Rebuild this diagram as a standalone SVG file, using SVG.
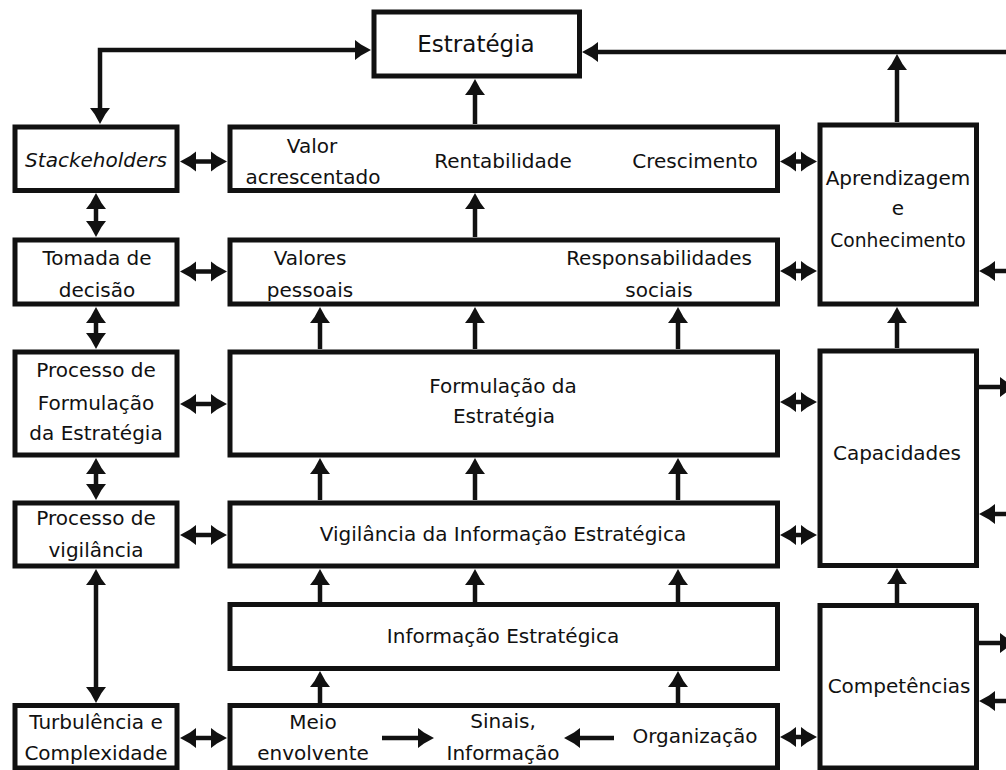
<svg xmlns="http://www.w3.org/2000/svg" width="1006" height="770" viewBox="0 0 1006 770">
<style>
.box{fill:#fff;stroke:#111;stroke-width:5}
.ln{fill:none;stroke:#111;stroke-width:4.5}
.s{marker-end:url(#ah)}
.d{marker-start:url(#ah);marker-end:url(#ah)}
text{font-family:"DejaVu Sans","Liberation Sans",sans-serif;font-size:20px;fill:#111;text-anchor:middle}
.t{font-size:23px}
.i{font-style:italic}
</style>
<defs>
<marker id="ah" markerUnits="userSpaceOnUse" viewBox="-17 -11 18 22" markerWidth="18" markerHeight="22" refX="-8" refY="0" orient="auto-start-reverse">
<path d="M0,0 L-10,-5.5 L-16,-10 L-16,10 L-10,5.5 Z" fill="#111"/>
</marker>
</defs>
<rect width="1006" height="770" fill="#fff"/>
<g id="connectors">
<path class="ln d" d="M363,50 L100,50 L100,116"/>
<path class="ln s" d="M1010,52 L590,52"/>
<path class="ln s" d="M897,122 L897,62"/>
<path class="ln s" d="M475,124 L475,87"/>
<path class="ln d" d="M188,161.5 L219,161.5"/>
<path class="ln d" d="M788,161.5 L809,161.5"/>
<path class="ln d" d="M96,201 L96,229"/>
<path class="ln s" d="M475,237 L475,201"/>
<path class="ln d" d="M188,271.5 L219,271.5"/>
<path class="ln d" d="M788,271 L809,271"/>
<path class="ln s" d="M1010,271 L987,271"/>
<path class="ln d" d="M96,315 L96,341"/>
<path class="ln s" d="M320,349 L320,315"/>
<path class="ln s" d="M475,349 L475,315"/>
<path class="ln s" d="M678,349 L678,315"/>
<path class="ln s" d="M897,348 L897,315"/>
<path class="ln d" d="M188,404 L219,404"/>
<path class="ln d" d="M788,402 L809,402"/>
<path class="ln s" d="M979,387 L1008,387"/>
<path class="ln d" d="M96,466 L96,492"/>
<path class="ln s" d="M320,500 L320,466"/>
<path class="ln s" d="M475,500 L475,466"/>
<path class="ln s" d="M678,500 L678,466"/>
<path class="ln s" d="M1010,514 L987,514"/>
<path class="ln d" d="M188,535 L219,535"/>
<path class="ln d" d="M788,535 L809,535"/>
<path class="ln s" d="M897,603 L897,576"/>
<path class="ln s" d="M320,602 L320,577"/>
<path class="ln s" d="M475,602 L475,577"/>
<path class="ln s" d="M678,602 L678,577"/>
<path class="ln d" d="M96,577 L96,695"/>
<path class="ln s" d="M979,643 L1008,643"/>
<path class="ln s" d="M1010,701 L987,701"/>
<path class="ln s" d="M320,703 L320,679"/>
<path class="ln s" d="M678,703 L678,679"/>
<path class="ln d" d="M188,738 L219,738"/>
<path class="ln d" d="M788,737 L809,737"/>
</g>
<g id="estrategia"><rect class="box" x="374" y="12" width="205.5" height="64"/><text class="t" x="476" y="52">Estratégia</text></g>
<g id="stakeholders"><rect class="box" x="15" y="127" width="162" height="63.5"/><text class="i" x="96" y="167">Stackeholders</text></g>
<g id="valor"><rect class="box" x="230" y="127" width="547.5" height="63.5"/>
<text x="312" y="153">Valor</text><text x="313" y="184">acrescentado</text>
<text x="503" y="168">Rentabilidade</text><text x="695" y="168">Crescimento</text></g>
<g id="aprendizagem"><rect class="box" x="820" y="125" width="156.5" height="179"/>
<text x="898" y="185">Aprendizagem</text><text x="898" y="215">e</text><text x="898" y="247" style="font-size:18.7px">Conhecimento</text></g>
<g id="tomada"><rect class="box" x="15" y="240" width="162" height="64"/><text x="97" y="265">Tomada de</text><text x="97" y="297">decisão</text></g>
<g id="valores"><rect class="box" x="230" y="240" width="547.5" height="64"/>
<text x="310" y="265">Valores</text><text x="310" y="297">pessoais</text>
<text x="659" y="265">Responsabilidades</text><text x="659" y="297">sociais</text></g>
<g id="processo-formulacao"><rect class="box" x="15" y="352" width="162" height="103"/>
<text x="96" y="377">Processo de</text><text x="96" y="410">Formulação</text><text x="96" y="440">da Estratégia</text></g>
<g id="formulacao"><rect class="box" x="230" y="352" width="547.5" height="103"/>
<text x="503" y="393">Formulação da</text><text x="504" y="423">Estratégia</text></g>
<g id="capacidades"><rect class="box" x="820" y="351" width="156.5" height="214.5"/><text x="897" y="460">Capacidades</text></g>
<g id="processo-vigilancia"><rect class="box" x="15" y="503" width="162" height="63"/><text x="96" y="525">Processo de</text><text x="96" y="557">vigilância</text></g>
<g id="vigilancia"><rect class="box" x="230" y="503" width="547.5" height="63"/><text x="503" y="541">Vigilância da Informação Estratégica</text></g>
<g id="informacao"><rect class="box" x="230" y="604.5" width="547.5" height="64"/><text x="503" y="643">Informação Estratégica</text></g>
<g id="competencias"><rect class="box" x="820" y="605.5" width="156.5" height="162.5"/><text x="899" y="693">Competências</text></g>
<g id="turbulencia"><rect class="box" x="15" y="705.5" width="162" height="62.5"/><text x="96" y="729">Turbulência e</text><text x="96" y="760">Complexidade</text></g>
<g id="meio"><rect class="box" x="230" y="705.5" width="547.5" height="62.5"/>
<text x="313" y="729">Meio</text><text x="313" y="760">envolvente</text>
<text x="503" y="728">Sinais,</text><text x="503" y="760">Informação</text>
<text x="695" y="743">Organização</text>
<path class="ln s" d="M382,738 L426,738"/>
<path class="ln s" d="M614,738 L572,738"/></g>
</svg>
